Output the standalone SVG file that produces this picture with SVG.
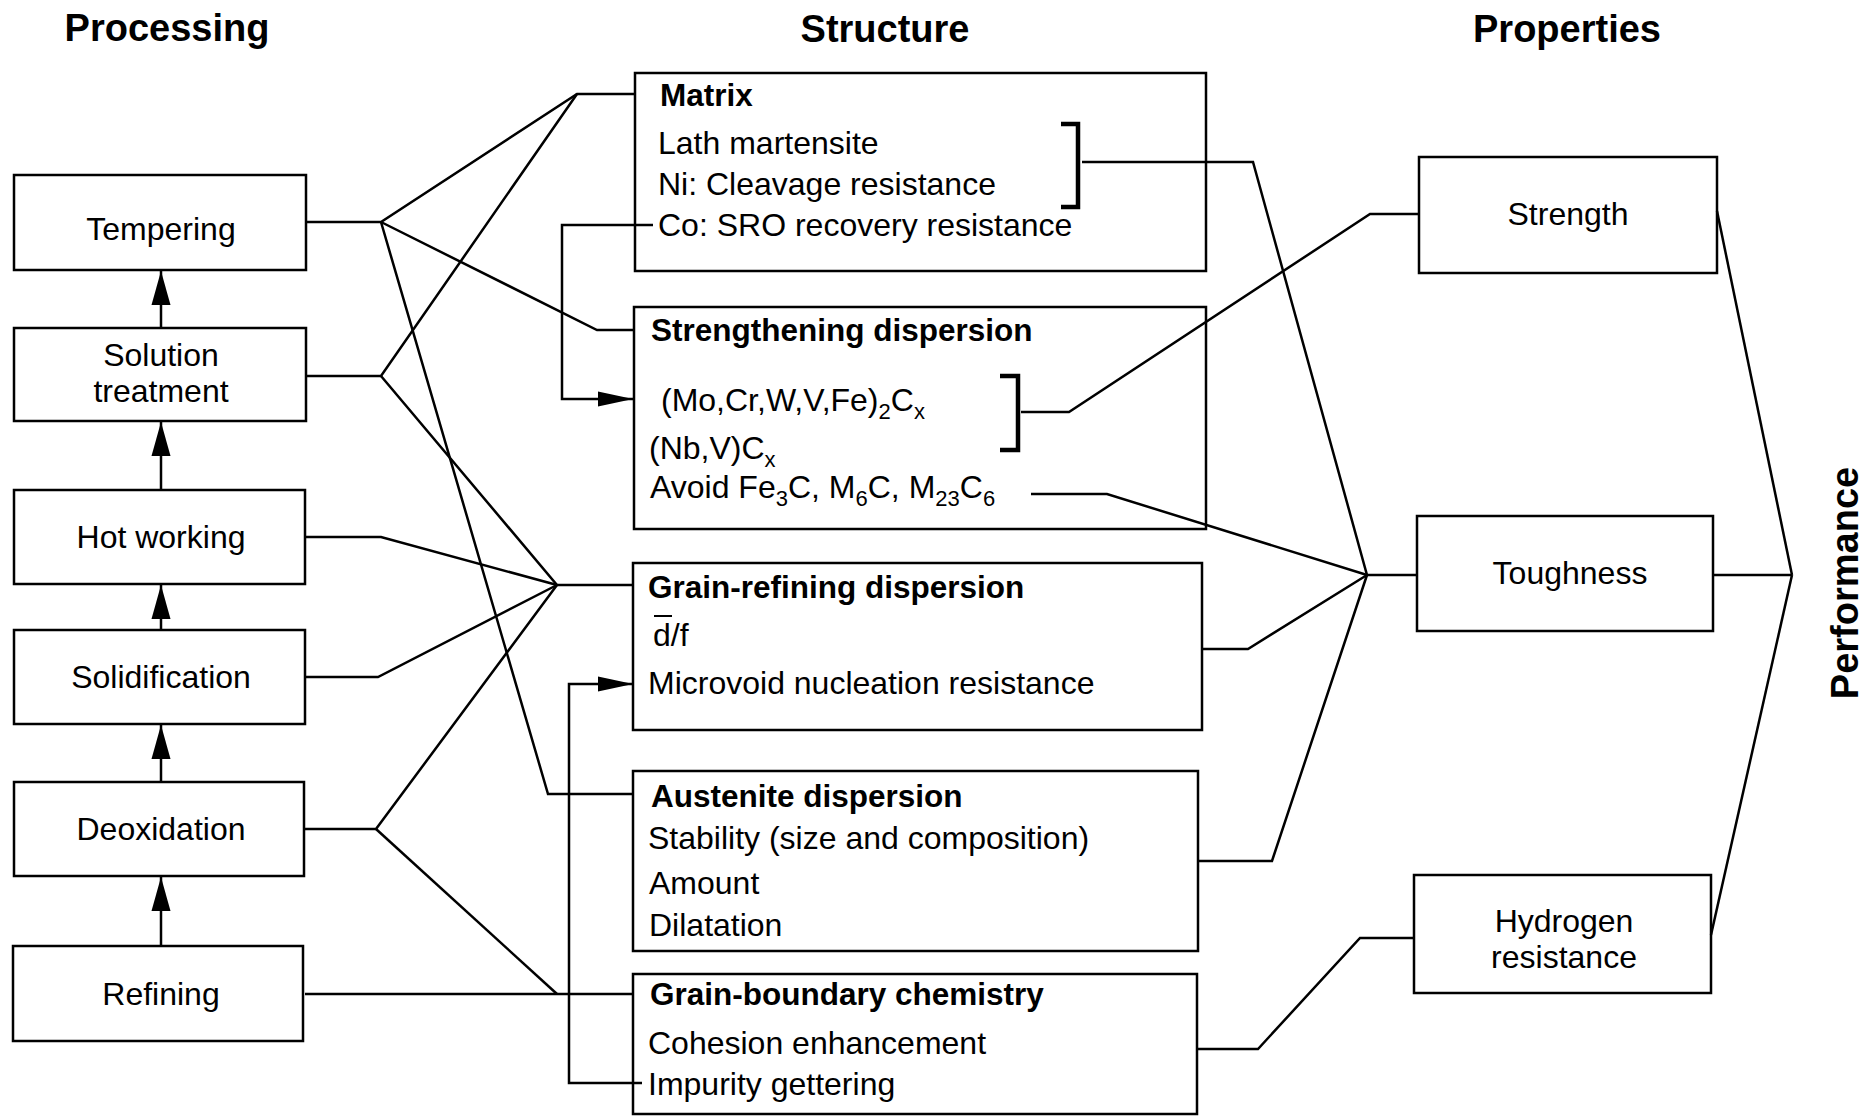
<svg xmlns="http://www.w3.org/2000/svg" width="1867" height="1116" viewBox="0 0 1867 1116">
<style>
text{font-family:"Liberation Sans",Arial,Helvetica,sans-serif;fill:#000}
.t{font-size:38px;font-weight:bold}
.n{font-size:32px}
.h{font-size:31.5px;font-weight:bold}
.c{text-anchor:middle}
.box{fill:none;stroke:#000;stroke-width:2.5}
.ln{fill:none;stroke:#000;stroke-width:2.5;stroke-linejoin:miter}
.br{fill:none;stroke:#000;stroke-width:4.5}
.sub{font-size:22px}
</style>
<defs>
<marker id="au" markerUnits="userSpaceOnUse" markerWidth="34" markerHeight="20" refX="34" refY="10" orient="auto">
<path d="M0,0.5 L34,10 L0,19.5 Z" fill="#000"/>
</marker>
<marker id="ar" markerUnits="userSpaceOnUse" markerWidth="36" markerHeight="16" refX="35" refY="8" orient="auto">
<path d="M0,0.5 L35,8 L0,15.5 Z" fill="#000"/>
</marker>
</defs>
<rect width="1867" height="1116" fill="#fff"/>

<g id="titles">
<text class="t c" x="167" y="41">Processing</text>
<text class="t c" x="885" y="42">Structure</text>
<text class="t c" x="1567" y="42">Properties</text>
<text class="t c" transform="translate(1858,583) rotate(-90)">Performance</text>
</g>

<g id="connectors">
<path class="ln" d="M307,222 H381 L577,94 H635"/>
<path class="ln" d="M381,222 L597,330 H634"/>
<path class="ln" d="M381,222 L548,794 H633"/>
<path class="ln" d="M305,376 H381 L577,94"/>
<path class="ln" d="M381,376 L557,585 H633"/>
<path class="ln" d="M305,537 H381 L557,585"/>
<path class="ln" d="M305,677 H378 L557,585"/>
<path class="ln" d="M305,829 H376 L557,585"/>
<path class="ln" d="M376,829 L557,994"/>
<path class="ln" d="M305,994 H633"/>
<path class="ln" d="M653,225 H562 V399 H633" marker-end="url(#ar)"/>
<path class="ln" d="M642,1083 H569 V684 H633" marker-end="url(#ar)"/>
<path class="ln" d="M1082,162 H1253 L1367,575 H1417"/>
<path class="ln" d="M1021,412 H1069 L1370,214 H1419"/>
<path class="ln" d="M1031,494 H1107 L1367,575"/>
<path class="ln" d="M1202,649 H1248 L1367,575"/>
<path class="ln" d="M1198,861 H1272 L1367,575"/>
<path class="ln" d="M1197,1049 H1258 L1360,938 H1414"/>
<path class="ln" d="M1717,211 L1792,575"/>
<path class="ln" d="M1713,575 H1792"/>
<path class="ln" d="M1711,935 L1792,575"/>
<path class="ln" d="M161,328 V271" marker-end="url(#au)"/>
<path class="ln" d="M161,490 V422" marker-end="url(#au)"/>
<path class="ln" d="M161,630 V585" marker-end="url(#au)"/>
<path class="ln" d="M161,782 V725" marker-end="url(#au)"/>
<path class="ln" d="M161,946 V877" marker-end="url(#au)"/>
</g>

<g id="tempering">
<rect class="box" x="14" y="175" width="292" height="95"/>
<text class="n c" x="161" y="240">Tempering</text>
</g>
<g id="solution-treatment">
<rect class="box" x="14" y="328" width="292" height="93"/>
<text class="n c" x="161" y="366">Solution</text>
<text class="n c" x="161" y="402">treatment</text>
</g>
<g id="hot-working">
<rect class="box" x="14" y="490" width="291" height="94"/>
<text class="n c" x="161" y="548">Hot working</text>
</g>
<g id="solidification">
<rect class="box" x="14" y="630" width="291" height="94"/>
<text class="n c" x="161" y="688">Solidification</text>
</g>
<g id="deoxidation">
<rect class="box" x="14" y="782" width="290" height="94"/>
<text class="n c" x="161" y="840">Deoxidation</text>
</g>
<g id="refining">
<rect class="box" x="13" y="946" width="290" height="95"/>
<text class="n c" x="161" y="1005">Refining</text>
</g>

<g id="matrix">
<rect class="box" x="635" y="73" width="571" height="198"/>
<text class="h" x="660" y="106">Matrix</text>
<text class="n" x="658" y="154">Lath martensite</text>
<text class="n" x="658" y="195">Ni: Cleavage resistance</text>
<text class="n" x="658" y="236">Co: SRO recovery resistance</text>
<path class="br" d="M1061,124 H1078 V207 H1061"/>
</g>
<g id="strengthening-dispersion">
<rect class="box" x="634" y="307" width="572" height="222"/>
<text class="h" x="651" y="341">Strengthening dispersion</text>
<text class="n" x="661" y="411">(Mo,Cr,W,V,Fe)<tspan class="sub" dy="8">2</tspan><tspan dy="-8">C</tspan><tspan class="sub" dy="8">x</tspan></text>
<text class="n" x="649" y="459">(Nb,V)C<tspan class="sub" dy="8">x</tspan></text>
<text class="n" x="650" y="498">Avoid Fe<tspan class="sub" dy="8">3</tspan><tspan dy="-8">C, M</tspan><tspan class="sub" dy="8">6</tspan><tspan dy="-8">C, M</tspan><tspan class="sub" dy="8">23</tspan><tspan dy="-8">C</tspan><tspan class="sub" dy="8">6</tspan></text>
<path class="br" d="M1000,376 H1018 V450 H1000"/>
</g>
<g id="grain-refining-dispersion">
<rect class="box" x="633" y="563" width="569" height="167"/>
<text class="h" x="648" y="598">Grain-refining dispersion</text>
<text class="n" x="653" y="646">d/f</text>
<line x1="654" y1="616" x2="672" y2="616" stroke="#000" stroke-width="2"/>
<text class="n" x="648" y="694">Microvoid nucleation resistance</text>
</g>
<g id="austenite-dispersion">
<rect class="box" x="633" y="771" width="565" height="180"/>
<text class="h" x="651" y="807">Austenite dispersion</text>
<text class="n" x="648" y="849">Stability (size and composition)</text>
<text class="n" x="649" y="894">Amount</text>
<text class="n" x="649" y="936">Dilatation</text>
</g>
<g id="grain-boundary-chemistry">
<rect class="box" x="633" y="974" width="564" height="140"/>
<text class="h" x="650" y="1005">Grain-boundary chemistry</text>
<text class="n" x="648" y="1054">Cohesion enhancement</text>
<text class="n" x="648" y="1095">Impurity gettering</text>
</g>

<g id="strength">
<rect class="box" x="1419" y="157" width="298" height="116"/>
<text class="n c" x="1568" y="225">Strength</text>
</g>
<g id="toughness">
<rect class="box" x="1417" y="516" width="296" height="115"/>
<text class="n c" x="1570" y="584">Toughness</text>
</g>
<g id="hydrogen-resistance">
<rect class="box" x="1414" y="875" width="297" height="118"/>
<text class="n c" x="1564" y="932">Hydrogen</text>
<text class="n c" x="1564" y="968">resistance</text>
</g>
</svg>
